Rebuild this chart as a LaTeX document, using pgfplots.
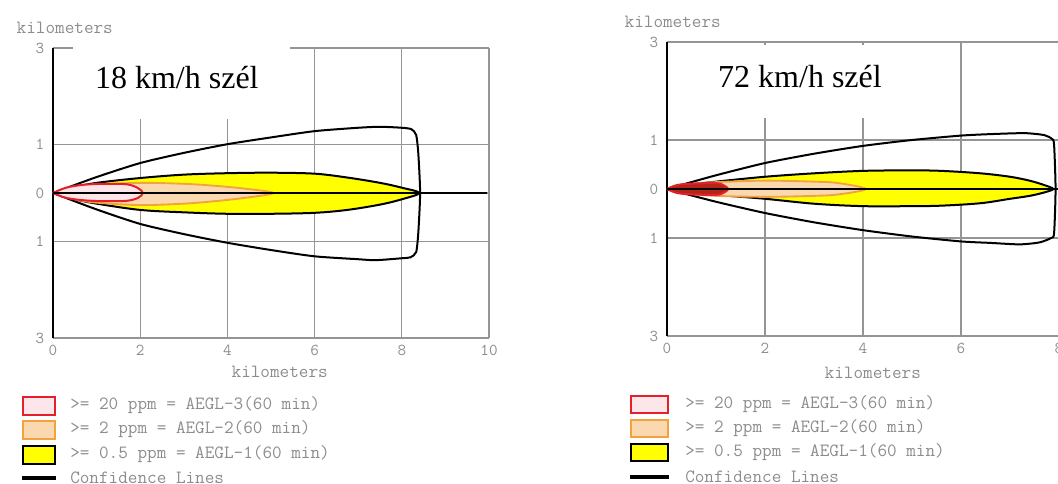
\documentclass[border=0pt]{standalone}
\usepackage{fontspec}
\setmainfont{Liberation Serif}
\usepackage{pgfplots}
\pgfplotsset{compat=1.18}

\definecolor{aeglred}{HTML}{E4202A}
\definecolor{aeglpink}{HTML}{FCE6EA}
\definecolor{aegldark}{HTML}{B42418}
\definecolor{aeglorange}{HTML}{F2A23E}
\definecolor{aeglpeach}{HTML}{FBD9B0}
\definecolor{aeglyellow}{HTML}{FFFF00}
\definecolor{labelgray}{HTML}{8C8C8C}
\definecolor{gridgray}{HTML}{959595}

\newcommand{\monofont}{\ttfamily\fontsize{14}{16}\selectfont}

\pgfplotsset{
  plumeaxis/.style={
    scale only axis, clip=false,
    xmin=0, xmax=10, ymin=-3, ymax=3,
    xtick={0,2,4,6,8,10}, xticklabels={0,2,4,6,8,10},
    ytick={-3,-1,0,1,3}, yticklabels={3,1,0,1,3},
    grid=major, major grid style={gridgray, line width=0.9pt},
    axis line style={draw=none},
    major tick length=0pt,
    tick label style={font=\ttfamily\fontsize{12.5}{15}\selectfont, text=labelgray},
    xticklabel style={yshift=-2pt},
    yticklabel style={xshift=-3pt},
    label style={font=\monofont, text=labelgray},
    xlabel={kilometers}, ylabel={kilometers},
    ylabel style={rotate=-90, anchor=west},
  },
  conf/.style={black, line width=1.5pt, smooth, tension=0.4},
  aegl1/.style={draw=black, line width=1.5pt, fill=aeglyellow, smooth, tension=0.55},
  aegl2/.style={draw=aeglorange, line width=1.4pt, fill=aeglpeach, smooth, tension=0.55},
  aegl3/.style={draw=aeglred, line width=1.5pt, fill=aeglpink, smooth, tension=0.55},
  centre/.style={black, line width=2pt},
}

\begin{document}
\begin{tikzpicture}
\useasboundingbox (0,0) rectangle (793.5pt,362.25pt);
\clip (0,0) rectangle (793.5pt,362.25pt);

% ---- 18 km/h wind ----
\begin{axis}[plumeaxis,
  at={(39.75pt,108.75pt)}, anchor=south west,
  width=327pt, height=217.5pt,
  xlabel style={at={(axis description cs:0.52,-0.117)}, anchor=center},
  ylabel style={at={(axis description cs:-0.094,1.069)}},
]
\fill[white] (axis cs:0.46,3.06) rectangle (axis cs:5.44,1.53);
\node[anchor=base west, inner sep=0, font=\fontsize{24}{28}\selectfont]
  at (axis cs:0.96,2.17) {18 km/h szél};
\draw[black, line width=2.2pt] (axis cs:0,-3) -- (axis cs:0,3);

\addplot[conf] coordinates {
  (0,0) (1,0.33) (2,0.62) (3,0.83) (4,1.01) (5,1.15) (6,1.28) (7,1.35)
  (7.5,1.37) (8,1.35) (8.22,1.32) (8.33,1.2) (8.38,0.8) (8.42,0)
  (8.38,-0.8) (8.33,-1.22) (8.2,-1.33) (8,-1.35) (7.4,-1.39) (7,-1.37)
  (6,-1.31) (5,-1.18) (4,-1.03) (3,-0.85) (2,-0.64) (1,-0.34) (0,0)};
\addplot[aegl1] coordinates {
  (0,0) (0.5,0.12) (1,0.21) (2,0.31) (3,0.38) (4,0.41) (5,0.42) (6,0.40)
  (6.75,0.32) (7.5,0.21) (8,0.11) (8.4,0)
  (8,-0.13) (7.5,-0.24) (6.75,-0.35) (6,-0.41) (5,-0.43)
  (4,-0.43) (3,-0.40) (2,-0.35) (1,-0.22) (0.5,-0.13) (0,0)};
\addplot[aegl2] coordinates {
  (0,0) (0.5,0.12) (1,0.17) (2,0.21) (3,0.19) (3.7,0.15) (4.4,0.09) (5.05,0)
  (4.4,-0.1) (3.7,-0.17) (3,-0.22) (2,-0.25) (1,-0.2) (0.5,-0.13) (0,0)};
\addplot[aegl3] coordinates {
  (0,0) (0.3,0.11) (0.7,0.17) (1.2,0.19) (1.7,0.18) (1.95,0.1) (2.06,0)
  (1.95,-0.1) (1.7,-0.16) (1.2,-0.17) (0.7,-0.15) (0.3,-0.1) (0,0)};
\addplot[centre] coordinates {(0,0) (9.95,0)};
\end{axis}

% ---- 72 km/h wind ----
\begin{axis}[plumeaxis,
  at={(500.25pt,110.25pt)}, anchor=south west,
  width=367.5pt, height=220.5pt,
  xlabel style={at={(axis description cs:0.42,-0.126)}, anchor=center},
  ylabel style={at={(axis description cs:-0.096,1.068)}},
]
\fill[white] (axis cs:0.05,2.94) rectangle (axis cs:4.6,1.45);
\node[anchor=base west, inner sep=0, font=\fontsize{24}{28}\selectfont]
  at (axis cs:1.04,2.08) {72 km/h szél};
\draw[black, line width=2.2pt] (axis cs:0,-3) -- (axis cs:0,3);

\addplot[conf] coordinates {
  (0,0) (1,0.28) (2,0.53) (3,0.72) (4,0.88) (5,1.0) (6,1.09) (6.6,1.12)
  (7.3,1.14) (7.7,1.1) (7.86,1.02) (7.9,0.9) (7.93,0)
  (7.9,-0.9) (7.84,-1.0) (7.6,-1.09) (7.2,-1.13) (6.6,-1.1) (6,-1.07)
  (5,-0.97) (4,-0.84) (3,-0.68) (2,-0.49) (1,-0.26) (0,0)};
\addplot[aegl1] coordinates {
  (0,0) (0.5,0.09) (1,0.15) (2,0.25) (3,0.32) (4,0.37) (5,0.38) (5.6,0.37)
  (6.4,0.32) (7,0.25) (7.4,0.17) (7.7,0.08) (7.88,0)
  (7.7,-0.07) (7.4,-0.14) (7,-0.2) (6.4,-0.29) (5.6,-0.34) (5,-0.35)
  (4,-0.35) (3,-0.3) (2,-0.2) (1,-0.12) (0.5,-0.08) (0,0)};
\addplot[aegl2] coordinates {
  (0,0) (0.5,0.1) (1,0.14) (2,0.17) (3,0.15) (3.5,0.12) (4.05,0)
  (3.5,-0.11) (3,-0.14) (2,-0.16) (1,-0.14) (0.5,-0.1) (0,0)};
\addplot[aegl3, fill=aegldark] coordinates {
  (0,0) (0.2,0.08) (0.5,0.11) (1.0,0.12) (1.15,0.08) (1.25,0)
  (1.15,-0.08) (1.0,-0.12) (0.5,-0.11) (0.2,-0.08) (0,0)};
\addplot[centre] coordinates {(0,0) (10,0)};
\end{axis}

% ---- keys under each panel ----
\begin{scope}[x=0.75pt, y=-0.75pt, shift={(0pt,362.25pt)},
  every node/.style={anchor=west, inner sep=0, font=\monofont, text=labelgray}]
  \draw[aeglred, line width=2.2pt, fill=aeglpink] (23,397) rectangle (55,415);
  \draw[aeglorange, line width=2.2pt, fill=aeglpeach] (23,421) rectangle (55,439);
  \draw[black, line width=2.2pt, fill=aeglyellow] (23,446) rectangle (55,464);
  \draw[black, line width=2.4pt] (22,478) -- (56,478);
  \node at (70,405) {>= 20 ppm = AEGL-3(60 min)};
  \node at (70,429) {>= 2 ppm = AEGL-2(60 min)};
  \node at (70,454) {>= 0.5 ppm = AEGL-1(60 min)};
  \node at (70,478) {Confidence Lines};

  \draw[aeglred, line width=2.2pt, fill=aeglpink] (631,396) rectangle (668,413);
  \draw[aeglorange, line width=2.2pt, fill=aeglpeach] (631,420) rectangle (668,437);
  \draw[black, line width=2.2pt, fill=aeglyellow] (631,444) rectangle (668,461);
  \draw[black, line width=2.4pt] (630,477) -- (669,477);
  \node at (685,404) {>= 20 ppm = AEGL-3(60 min)};
  \node at (685,428) {>= 2 ppm = AEGL-2(60 min)};
  \node at (685,452) {>= 0.5 ppm = AEGL-1(60 min)};
  \node at (685,477) {Confidence Lines};
\end{scope}
\end{tikzpicture}
\end{document}
